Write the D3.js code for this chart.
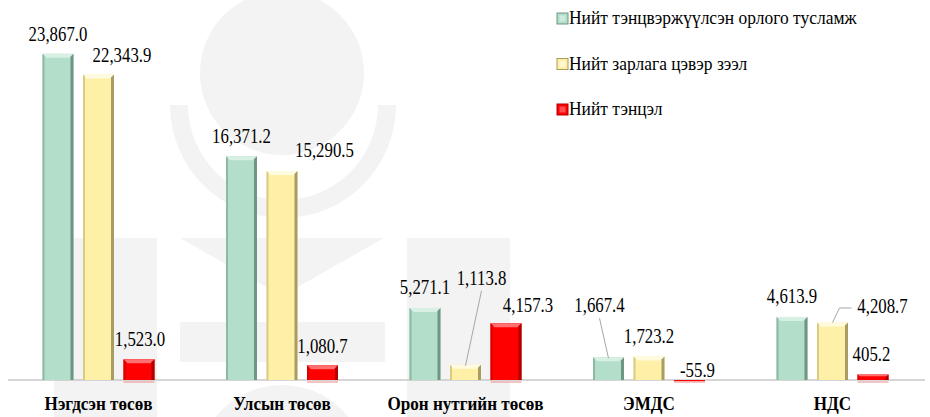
<!DOCTYPE html>
<html>
<head>
<meta charset="utf-8">
<script src="https://cdn.jsdelivr.net/npm/d3@7/dist/d3.min.js"></script>
<style>
  html, body { margin: 0; padding: 0; background: #fff; }
  svg { display: block; }
  text { font-family: "Liberation Serif", "Times New Roman", serif; fill: #000; }
</style>
</head>
<body>
<div id="chart"></div>
<script>
// ---------- data ----------
const categories = ["Нэгдсэн төсөв", "Улсын төсөв", "Орон нутгийн төсөв", "ЭМДС", "НДС"];
const seriesNames = ["Нийт тэнцвэржүүлсэн орлого тусламж", "Нийт зарлага цэвэр зээл", "Нийт тэнцэл"];
const revenue     = [23867.0, 16371.2, 5271.1, 1667.4, 4613.9];
const expenditure = [22343.9, 15290.5, 1113.8, 1723.2, 4208.7];
const balance     = [1523.0, 1080.7, 4157.3, -55.9, 405.2];

// ---------- layout (manual label placement of the original) ----------
const labelNudge = [
  [[0, 0], [0, 0], [0, -1], [-9, -32], [0, -1]],        // revenue
  [[23.5, 0], [42.5, -1], [16, -67], [0, 0], [50, 3.5]], // expenditure
  [[1, 0], [0, 1], [22, 2], [8, 10], [-1.5, 0]]          // balance
];
const leaders = [
  { s: 1, c: 2, type: "straight" },
  { s: 0, c: 3, type: "straight" },
  { s: 1, c: 4, type: "elbow" }
];

const W = 930, H = 417;
const baseY = 380;
const FONT = "'Liberation Serif', 'Times New Roman', serif";
const colors = [
  { fill: "#b3dec9", light: "#d8f0e4", dark: "#6f9584", edge: "#8db8a4" },
  { fill: "#fff0a8", light: "#fffbe0", dark: "#a89c62", edge: "#d9ca86" },
  { fill: "#ff0000", light: "#ff7070", dark: "#b00000", edge: "#d80000" }
];
const values = [revenue, expenditure, balance];

const svg = d3.select("#chart").append("svg").attr("width", W).attr("height", H)
  .attr("font-family", FONT);

// ---------- watermark ----------
const wm = svg.append("g").attr("fill", "#f3f3f3");
wm.append("circle").attr("cx", 282).attr("cy", 73).attr("r", 82);
const arcGen = d3.arc().innerRadius(95).outerRadius(113).startAngle(Math.PI / 2).endAngle(Math.PI * 1.5);
wm.append("path").attr("d", arcGen()).attr("transform", "translate(283,105)");
wm.append("path").attr("d", "M180,238 L384,238 L282,296 Z");
wm.append("rect").attr("x", 180).attr("y", 322).attr("width", 205).attr("height", 40);
wm.append("rect").attr("x", 54).attr("y", 238).attr("width", 103).attr("height", 179);
wm.append("rect").attr("x", 407).attr("y", 238).attr("width", 103).attr("height", 179);
wm.append("circle").attr("cx", 282).attr("cy", 470).attr("r", 85);

// ---------- scales ----------
const x0 = d3.scaleBand().domain(categories).range([6.75, 924.25]).padding(0);
const x1 = d3.scaleBand().domain(d3.range(3)).range([-56, 56]).paddingInner(0.235).paddingOuter(0);
const y = d3.scaleLinear().domain([0, 27800]).range([baseY, 0]);

const cx = c => x0(categories[c]) + x0.bandwidth() / 2;
const barX = (s, c) => cx(c) + x1(s);
const bw = x1.bandwidth();

// ---------- axis line ----------
svg.append("line").attr("x1", 8).attr("x2", 925).attr("y1", baseY).attr("y2", baseY)
  .attr("stroke", "#c8c8c8").attr("stroke-width", 1.5);

// ---------- bars ----------
const gBars = svg.append("g");
values.forEach((arr, s) => {
  arr.forEach((v, c) => {
    const col = colors[s];
    const x = barX(s, c);
    const top = Math.min(y(v), y(0));
    const h = Math.max(Math.abs(y(v) - y(0)), 1.2);
    const g = gBars.append("g");
    g.append("rect").attr("x", x).attr("y", top).attr("width", bw).attr("height", h).attr("fill", col.fill);
    if (h > 4) {
      const b = Math.min(4, h / 3);
      g.append("path").attr("d", `M${x},${top} L${x + bw},${top} L${x + bw - b},${top + b} L${x + b},${top + b} Z`).attr("fill", col.light);
      g.append("path").attr("d", `M${x},${top} L${x + 2},${top + 2} L${x + 2},${top + h} L${x},${top + h} Z`).attr("fill", col.edge);
      g.append("path").attr("d", `M${x + bw},${top} L${x + bw - 3},${top + 3} L${x + bw - 3},${top + h} L${x + bw},${top + h} Z`).attr("fill", col.dark);
    }
    if (s === 2) {
      g.append("line").attr("x1", x).attr("x2", x + bw).attr("y1", baseY + 2).attr("y2", baseY + 2)
        .attr("stroke", "#e88a8a").attr("stroke-width", 1);
    }
  });
});

// ---------- value labels ----------
const fmt = v => d3.format(",.1f")(v).replace("\u2212", "-");
const labelPos = (s, c) => {
  const v = values[s][c];
  const top = Math.min(y(v), y(0));
  const n = labelNudge[s][c];
  return { x: barX(s, c) + bw / 2 + n[0], y: top - 13 + n[1], top };
};
const SX = 0.84;
values.forEach((arr, s) => {
  arr.forEach((v, c) => {
    const p = labelPos(s, c);
    svg.append("text")
      .attr("transform", `translate(${p.x},${p.y}) scale(${SX},1)`)
      .attr("text-anchor", "middle")
      .attr("font-family", FONT)
      .attr("font-size", 20)
      .text(fmt(v));
  });
});

// ---------- leader lines ----------
leaders.forEach(l => {
  const p = labelPos(l.s, l.c);
  const bx = barX(l.s, l.c) + bw / 2;
  let d;
  if (l.type === "elbow") {
    d = `M${bx},${p.top} L${bx + 7},${p.y - 5} L${p.x - 31},${p.y - 5}`;
  } else {
    d = `M${bx},${p.top + 1} L${p.x},${p.y + 6}`;
  }
  svg.append("path").attr("d", d).attr("fill", "none").attr("stroke", "#a6a6a6").attr("stroke-width", 1);
});

// ---------- category labels ----------
categories.forEach((cat, c) => {
  svg.append("text")
    .attr("transform", `translate(${cx(c)},410) scale(0.9,1)`)
    .attr("text-anchor", "middle")
    .attr("font-family", FONT)
    .attr("font-size", 19)
    .attr("font-weight", "bold")
    .text(cat);
});

// ---------- legend ----------
const legend = svg.append("g").attr("transform", "translate(557,13)");
seriesNames.forEach((name, s) => {
  const g = legend.append("g").attr("transform", `translate(0,${s * 45.5})`);
  const col = colors[s];
  g.append("rect").attr("width", 11).attr("height", 11).attr("fill", col.fill).attr("stroke", col.dark).attr("stroke-width", 1);
  g.append("rect").attr("x", 2.5).attr("y", 2.5).attr("width", 6).attr("height", 6).attr("fill", col.light).attr("opacity", 0.7);
  g.append("text")
    .attr("transform", `translate(12,11) scale(0.92,1)`)
    .attr("font-family", FONT)
    .attr("font-size", 19)
    .text(name);
});
</script>
</body>
</html>
